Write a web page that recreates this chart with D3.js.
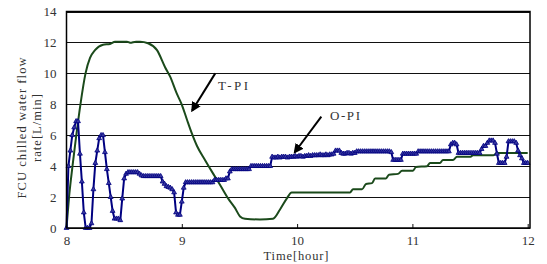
<!DOCTYPE html>
<html>
<head>
<meta charset="utf-8">
<script src="https://cdn.jsdelivr.net/npm/d3@7/dist/d3.min.js"></script>
<style>
	body { margin: 0; background: #fff; }
	text { font-family: "Liberation Serif", "DejaVu Serif", serif; fill: #333; }
</style>
</head>
<body>
<div id="chart"></div>
<script>
// O-PI flow, one reading per minute from 8:00 to 12:00 [L/min]
var opiFlow = [
	0, 4.0, 5.0, 6.0, 6.5, 6.9, 6.9, 4.8, 3.0, 1.0,
	0, 0, 0, 0.3, 2.5, 4.2, 5.0, 5.8, 6.0, 6.0,
	4.9, 3.8, 2.9, 2.0, 1.1, 0.6, 0.6, 0.6, 0.5, 1.9,
	3.2, 3.5, 3.6, 3.6, 3.6, 3.6, 3.6, 3.6, 3.5, 3.4,
	3.35, 3.35, 3.35, 3.35, 3.35, 3.35, 3.35, 3.35, 3.35, 3.35,
	3.0, 2.85, 2.7, 2.65, 2.6, 2.5, 2.3, 1.0, 0.85, 0.85,
	1.7, 2.6, 2.95, 2.95, 2.95, 2.95, 2.95, 2.95, 2.95, 2.95,
	2.95, 2.95, 2.95, 2.95, 2.95, 2.95, 2.95, 3.1, 3.1, 3.1,
	3.1, 3.1, 3.1, 3.2, 3.2, 3.65, 3.8, 3.8, 3.8, 3.8,
	3.8, 3.8, 3.8, 3.8, 3.8, 3.8, 4.0, 4.0, 4.0, 4.0,
	4.0, 4.0, 4.0, 4.0, 4.0, 4.0, 4.0, 4.6, 4.55, 4.55,
	4.6, 4.55, 4.6, 4.6, 4.6, 4.55, 4.6, 4.6, 4.6, 4.65,
	4.6, 4.65, 4.65, 4.6, 4.65, 4.65, 4.7, 4.65, 4.7, 4.7,
	4.7, 4.7, 4.75, 4.7, 4.7, 4.75, 4.7, 4.75, 4.75, 4.8,
	5.0, 5.0, 5.0, 4.85, 4.8, 4.8, 4.85, 4.85, 4.8, 4.85,
	4.85, 4.95, 4.95, 4.95, 4.95, 4.95, 4.95, 4.95, 4.95, 4.95,
	4.95, 4.95, 4.95, 4.95, 4.95, 4.95, 4.95, 4.95, 4.95, 4.9,
	4.4, 4.4, 4.4, 4.4, 4.4, 4.8, 4.8, 4.8, 4.8, 4.8,
	4.8, 4.8, 4.8, 4.95, 4.95, 4.95, 4.95, 4.95, 4.95, 4.95,
	4.95, 4.95, 4.95, 4.95, 4.95, 4.95, 4.95, 4.95, 4.95, 4.95,
	5.4, 5.5, 5.5, 5.4, 4.85, 4.85, 4.85, 4.85, 4.85, 4.85,
	4.85, 4.85, 4.85, 4.85, 4.85, 4.85, 5.1, 5.3, 5.3, 5.5,
	5.65, 5.65, 5.65, 5.5, 4.8, 4.2, 4.2, 4.2, 4.2, 4.6,
	5.6, 5.6, 5.6, 5.6, 5.5, 5.0, 4.7, 4.5, 4.2, 4.2,
	4.2
];

// T-PI flow, read at its turning points
var tpiTime = [
	8.0, 8.022, 8.052, 8.085, 8.121, 8.165, 8.204, 8.247, 8.317, 8.377,
	8.421, 8.525, 8.551, 8.603, 8.638, 8.707, 8.785, 8.855, 8.898, 8.956,
	8.999, 9.045, 9.088, 9.132, 9.201, 9.273, 9.331, 9.403, 9.461, 9.505,
	9.548, 9.678, 9.791, 9.852, 9.910, 9.953, 10.459, 10.485, 10.563, 10.598,
	10.650, 10.676, 10.771, 10.797, 10.875, 10.910, 11.005, 11.031, 11.127, 11.153,
	11.239, 11.265, 11.352, 11.387, 11.500, 11.526, 11.700, 11.734, 12.0
];
var tpiFlow = [
	0, 2.0, 4.0, 6.0, 8.0, 10.0, 11.0, 11.5, 11.85, 11.9,
	12.05, 12.05, 11.98, 12.05, 12.05, 11.95, 11.5, 10.4, 9.8, 8.7,
	8.0, 7.0, 6.1, 5.3, 4.4, 3.5, 2.8, 1.9, 1.3, 0.75,
	0.6, 0.55, 0.6, 1.2, 1.9, 2.3, 2.3, 2.5, 2.5, 2.85,
	2.9, 3.2, 3.2, 3.45, 3.5, 3.7, 3.7, 3.95, 4.0, 4.2,
	4.2, 4.4, 4.4, 4.6, 4.6, 4.7, 4.7, 4.85, 4.85
];

var xTicks = [ 8, 9, 10, 11, 12 ],
	yTicks = [ 0, 2, 4, 6, 8, 10, 12, 14 ];

var width = 547,
	height = 264,
	margin = { top: 11.5, right: 17, bottom: 36, left: 66.5 };

var svg = d3.select( "#chart" ).append( "svg" )
	.attr( "width", width )
	.attr( "height", height );

// scales: the frame runs a little past 12:00
var x = d3.scaleLinear().domain( [ 8, 12.02 ] ).range( [ margin.left, width - margin.right ] ),
	y = d3.scaleLinear().domain( [ 0, 14 ] ).range( [ height - margin.bottom, margin.top ] );

// horizontal grid
svg.append( "g" )
	.selectAll( "line" )
	.data( yTicks )
	.join( "line" )
	.attr( "x1", x( 8 ) )
	.attr( "x2", x( 12.02 ) )
	.attr( "y1", function ( d ) { return Math.round( y( d ) ) + 0.5; } )
	.attr( "y2", function ( d ) { return Math.round( y( d ) ) + 0.5; } )
	.attr( "stroke", "#111" )
	.attr( "stroke-width", 1 );

// y axis labels
var yAxis = d3.axisLeft( y ).tickValues( yTicks ).tickSize( 0 ).tickPadding( 10 );
svg.append( "g" )
	.attr( "transform", "translate(" + margin.left + ",0)" )
	.call( yAxis )
	.call( function ( g ) { g.select( ".domain" ).remove(); } )
	.selectAll( "text" )
	.attr( "font-size", 13 )
	.attr( "font-family", "Liberation Serif" )
	.attr( "fill", "#333" );

// x axis, ticks point inward
var xAxis = d3.axisTop( x ).tickValues( xTicks ).tickSize( 4 ).tickFormat( d3.format( "d" ) );
var xg = svg.append( "g" )
	.attr( "transform", "translate(0," + y( 0 ) + ")" )
	.call( xAxis );
xg.select( ".domain" ).remove();
xg.selectAll( "line" ).attr( "stroke", "#111" );
xg.selectAll( "text" )
	.attr( "y", 17 )
	.attr( "dy", 0 )
	.attr( "font-size", 13 )
	.attr( "font-family", "Liberation Serif" )
	.attr( "fill", "#333" );

// T-PI line
var tpiPts = tpiTime.map( function ( t, i ) { return [ t, tpiFlow[ i ] ]; } );
svg.append( "path" )
	.datum( tpiPts )
	.attr( "fill", "none" )
	.attr( "stroke", "#1b4a1b" )
	.attr( "stroke-width", 2 )
	.attr( "d", d3.line()
		.x( function ( d ) { return x( d[ 0 ] ); } )
		.y( function ( d ) { return y( d[ 1 ] ); } )
		.curve( d3.curveMonotoneX ) );

// O-PI line + triangle markers
var opiPts = opiFlow.map( function ( v, i ) { return [ 8 + i / 60, v ]; } );
svg.append( "path" )
	.datum( opiPts )
	.attr( "fill", "none" )
	.attr( "stroke", "#000080" )
	.attr( "stroke-width", 2 )
	.attr( "d", d3.line()
		.x( function ( d ) { return x( d[ 0 ] ); } )
		.y( function ( d ) { return y( d[ 1 ] ); } ) );

svg.append( "g" )
	.selectAll( "path" )
	.data( opiPts )
	.join( "path" )
	.attr( "transform", function ( d ) { return "translate(" + x( d[ 0 ] ) + "," + y( d[ 1 ] ) + ")"; } )
	.attr( "d", d3.symbol( d3.symbolTriangle, 10 ) )
	.attr( "fill", "#3a3aa0" )
	.attr( "stroke", "#000080" )
	.attr( "stroke-width", 0.8 );

// plot frame
svg.append( "rect" )
	.attr( "x", x( 8 ) )
	.attr( "y", y( 14 ) )
	.attr( "width", x( 12.02 ) - x( 8 ) )
	.attr( "height", y( 0 ) - y( 14 ) )
	.attr( "fill", "none" )
	.attr( "stroke", "#000" )
	.attr( "stroke-width", 1.5 );

// arrows
var defs = svg.append( "defs" );
defs.append( "marker" )
	.attr( "id", "head" )
	.attr( "viewBox", "0 0 10 10" )
	.attr( "refX", 8 )
	.attr( "refY", 5 )
	.attr( "markerWidth", 5 )
	.attr( "markerHeight", 5 )
	.attr( "orient", "auto" )
	.append( "path" )
	.attr( "d", "M0,0 L10,5 L0,10 z" )
	.attr( "fill", "#000" );

var notes = [
	{ label: "T-PI", tx: 218, ty: 89.5, from: [ 9.29, 10.0 ], to: [ 9.09, 7.6 ] },
	{ label: "O-PI", tx: 330, ty: 119.5, from: [ 10.21, 7.2 ], to: [ 9.98, 4.9 ] }
];

svg.append( "g" )
	.selectAll( "line" )
	.data( notes )
	.join( "line" )
	.attr( "x1", function ( d ) { return x( d.from[ 0 ] ); } )
	.attr( "y1", function ( d ) { return y( d.from[ 1 ] ); } )
	.attr( "x2", function ( d ) { return x( d.to[ 0 ] ); } )
	.attr( "y2", function ( d ) { return y( d.to[ 1 ] ); } )
	.attr( "stroke", "#000" )
	.attr( "stroke-width", 2 )
	.attr( "marker-end", "url(#head)" );

svg.append( "g" )
	.selectAll( "text" )
	.data( notes )
	.join( "text" )
	.attr( "x", function ( d ) { return d.tx; } )
	.attr( "y", function ( d ) { return d.ty; } )
	.attr( "font-size", 13 )
	.attr( "textLength", 30 )
	.attr( "lengthAdjust", "spacing" )
	.text( function ( d ) { return d.label; } );

// axis titles
svg.append( "text" )
	.attr( "x", 296 )
	.attr( "y", 259.5 )
	.attr( "text-anchor", "middle" )
	.attr( "font-size", 12.5 )
	.attr( "textLength", 65 )
	.attr( "lengthAdjust", "spacing" )
	.text( "Time[hour]" );

var yTitle = svg.append( "g" )
	.attr( "transform", "translate(0,128) rotate(-90)" );
yTitle.append( "text" )
	.attr( "x", 0 )
	.attr( "y", 26 )
	.attr( "text-anchor", "middle" )
	.attr( "font-size", 12.5 )
	.attr( "textLength", 141 )
	.attr( "lengthAdjust", "spacing" )
	.text( "FCU chilled water flow" );
yTitle.append( "text" )
	.attr( "x", 0 )
	.attr( "y", 41 )
	.attr( "text-anchor", "middle" )
	.attr( "font-size", 12.5 )
	.attr( "textLength", 68 )
	.attr( "lengthAdjust", "spacing" )
	.text( "rate[L/min]" );
</script>
</body>
</html>
